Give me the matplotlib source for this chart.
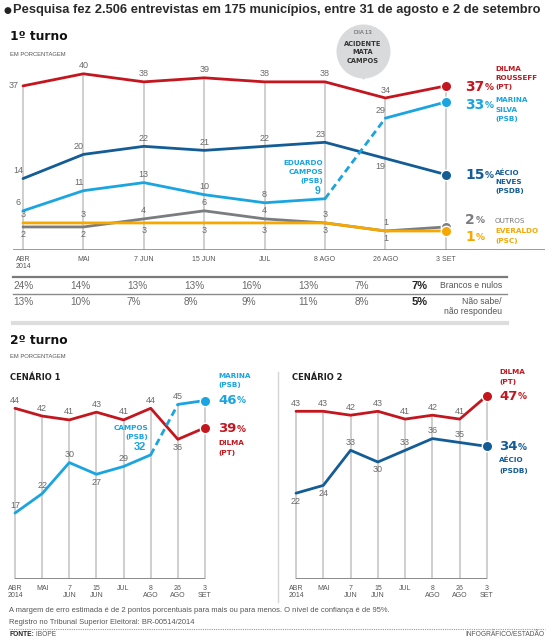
import numpy as np
import matplotlib.pyplot as plt
from matplotlib.patches import Circle, Polygon
from matplotlib.lines import Line2D

plt.rcParams['font.family'] = ['Liberation Sans Narrow', 'Liberation Sans', 'DejaVu Sans']

W, H = 560, 643

# 1o turno
datas_1t = ["ABR\n2014", "MAI", "7 JUN", "15 JUN", "JUL", "8 AGO", "26 AGO", "3 SET"]
dilma_1t = [37, 40, 38, 39, 38, 38, 34, 37]
aecio_1t = [14, 20, 22, 21, 22, 23, 19, 15]
marina_1t = [6, 11, 13, 10, 8, 9, 29, 33]   # ate 8 AGO = Eduardo Campos
outros_1t = [2, 2, 4, 6, 4, 3, 1, 2]
everaldo_1t = [3, 3, 3, 3, 3, 3, 1, 1]
brancos = [24, 14, 13, 13, 16, 13, 7, 7]
nao_sabe = [13, 10, 7, 8, 9, 11, 8, 5]

# 2o turno
datas_2t = ["ABR\n2014", "MAI", "7\nJUN", "15\nJUN", "JUL", "8\nAGO", "26\nAGO", "3\nSET"]
c1_dilma = [44, 42, 41, 43, 41, 44, 36, 39]
c1_marina = [17, 22, 30, 27, 29, 32, 45, 46]  # ate 8 AGO = Campos
c2_dilma = [43, 43, 42, 43, 41, 42, 41, 47]
c2_aecio = [22, 24, 33, 30, 33, 36, 35, 34]

RED = '#c3161e'
LBLUE = '#1aa4e0'
DBLUE = '#135c96'
GRAY = '#7b7c7f'
ORANGE = '#f7a800'
GRID = '#cccccc'
NUM = '#6a6a6a'

fig = plt.figure(figsize=(W / 100, H / 100), dpi=100)


def fx(px):
    return px / W


def fy(py):
    return 1 - py / H


def txt(px, py, s, **kw):
    kw.setdefault('va', 'center')
    return fig.text(fx(px), fy(py), s, **kw)


def linhas(px, py0, lst, step, **kw):
    for k, s in enumerate(lst):
        txt(px, py0 + k * step, s, **kw)


def hline(x0, x1, py, **kw):
    fig.add_artist(Line2D([fx(x0), fx(x1)], [fy(py), fy(py)], transform=fig.transFigure, **kw))


def make_ax(left, right, top, bottom, x0, dx, y0, dy):
    ax = fig.add_axes([fx(left), fy(bottom), (right - left) / W, (bottom - top) / H])
    ax.set_xlim((left - x0) / dx, (right - x0) / dx)
    ax.set_ylim((y0 - bottom) / dy, (y0 - top) / dy)
    ax.axis('off')
    return ax


OFF = {'a': ((0, 2.5), 'center', 'bottom'), 'b': ((0, -2.5), 'center', 'top'),
       'l': ((-3, 0), 'right', 'center'), 'al': ((-3.5, 2.5), 'center', 'bottom'),
       'bl': ((-4, -2.5), 'center', 'top'), 'L': ((-3, 2), 'right', 'bottom')}


def rotulos(ax, vals, pos, **kw):
    kw.setdefault('color', NUM)
    kw.setdefault('fontsize', 6.5)
    for i, (v, p) in enumerate(zip(vals, pos)):
        if p is None:
            continue
        (ox, oy), ha, va = OFF[p]
        ax.annotate(str(v), (i, v), xytext=(ox, oy), textcoords='offset points',
                    ha=ha, va=va, annotation_clip=False, **kw)


def grade(ax, series, base):
    topo = np.max(np.array(series), axis=0)
    ax.vlines(np.arange(len(topo)), base, topo, color=GRID, lw=1.3, zorder=1, clip_on=False)


def serie(ax, vals, color, tracejado=False):
    x = np.arange(len(vals))
    kw = dict(color=color, lw=2, zorder=3, clip_on=False, solid_capstyle='round')
    if tracejado:
        ax.plot(x[:6], vals[:6], **kw)
        ax.plot(x[5:7], vals[5:7], color=color, lw=2, ls=(0, (2.5, 1.5)), zorder=3, clip_on=False)
        ax.plot(x[6:], vals[6:], **kw)
    else:
        ax.plot(x, vals, **kw)
    ax.plot(x[-1], vals[-1], 'o', ms=7.5, color=color, mec='white', mew=1, zorder=4,
            clip_on=False)


def pct(ax, px, py, n, color, big=10, small=6.5):
    t = txt(px, py, str(n), ha='left', fontsize=big, weight='bold', color=color,
            family='DejaVu Sans')
    ax.annotate('%', xy=(1, 0.12), xycoords=t, xytext=(0.5, 0), textcoords='offset points',
                ha='left', va='bottom', fontsize=small, weight='bold', color=color,
                family='DejaVu Sans', annotation_clip=False)


def eixo_x(ax, labels, base, fs=5):
    for i, s in enumerate(labels):
        ax.annotate(s, (i, base), xytext=(0, -4), textcoords='offset points', ha='center',
                    va='top', fontsize=fs, color='#555555', linespacing=1.15,
                    annotation_clip=False)


NAME = dict(fontsize=5.2, weight='bold', family='DejaVu Sans', ha='left')
so_campos = [None] * 5 + ['L', None, None]

# ---------------- cabecalho
txt(3, 10, '●', fontsize=6.5, color='#222222', family='DejaVu Sans')
txt(13, 10, 'Pesquisa fez 2.506 entrevistas em 175 municípios, entre 31 de agosto e 2 de setembro',
    fontsize=9.3, weight='bold', color='#2a2a2a', family='Liberation Sans')
txt(10, 37, '1º turno', fontsize=8.8, weight='bold', color='#111111', family='DejaVu Sans')
txt(10, 55, 'EM PORCENTAGEM', fontsize=4.2, color='#555555')

# ---------------- 1o turno
ax1 = make_ax(13, 545, 62, 250, 23, 60.4, 235, 4.03)
base1 = ax1.get_ylim()[0]
grade(ax1, [dilma_1t, aecio_1t, marina_1t, outros_1t, everaldo_1t], base1)
ax1.axhline(base1, color='#8a8a8a', lw=1.2, zorder=2)
serie(ax1, outros_1t, GRAY)
serie(ax1, everaldo_1t, ORANGE)
serie(ax1, aecio_1t, DBLUE)
serie(ax1, marina_1t, LBLUE, tracejado=True)
serie(ax1, dilma_1t, RED)
eixo_x(ax1, datas_1t, base1)

rotulos(ax1, dilma_1t, ['l', 'a', 'a', 'a', 'a', 'a', 'a', None])
rotulos(ax1, aecio_1t, ['al', 'al', 'a', 'a', 'a', 'al', 'bl', None])
rotulos(ax1, marina_1t, ['al', 'al', 'a', 'a', 'a', None, 'al', None])
rotulos(ax1, marina_1t, so_campos, color=LBLUE, weight='bold', fontsize=7.5)
rotulos(ax1, outros_1t, ['b', 'b', 'a', 'a', 'a', 'a', 'a', None])
rotulos(ax1, everaldo_1t, ['a', 'a', 'b', 'b', 'b', 'b', 'b', None])

linhas(323, 163, ['EDUARDO', 'CAMPOS', '(PSB)'], 9, color=LBLUE, **{**NAME, 'ha': 'right'})

# balao
fig.add_artist(Polygon([(3.555, 6.43 - 0.70), (3.715, 6.43 - 0.70), (3.635, 6.43 - 0.80)],
                       closed=True, transform=fig.dpi_scale_trans, color='#d9dadc', lw=0))
fig.add_artist(Circle((3.635, 6.43 - 0.515), 0.27, transform=fig.dpi_scale_trans,
                      color='#d9dadc', lw=0))
txt(363, 33, 'DIA 13', fontsize=4.2, color='#555555', ha='center')
linhas(363, 44, ['ACIDENTE', 'MATA', 'CAMPOS'], 8.5, fontsize=4.8, weight='bold',
       color='#333333', ha='center', family='DejaVu Sans')

# rotulos finais 1o turno
pct(ax1, 465, 87, 37, RED)
linhas(495, 69, ['DILMA', 'ROUSSEFF', '(PT)'], 9, color=RED, **NAME)
pct(ax1, 465, 105, 33, LBLUE)
linhas(495, 100, ['MARINA', 'SILVA', '(PSB)'], 9.5, color=LBLUE, **NAME)
pct(ax1, 465, 175, 15, DBLUE)
linhas(495, 173, ['AÉCIO', 'NEVES', '(PSDB)'], 9, color=DBLUE, **NAME)
pct(ax1, 465, 220, 2, GRAY)
txt(495, 221, 'OUTROS', fontsize=5.2, color='#777777', family='DejaVu Sans')
pct(ax1, 465, 237, 1, ORANGE)
linhas(495, 231, ['EVERALDO', '(PSC)'], 10, color=ORANGE, **NAME)

# ---------------- tabela
hline(13, 507, 277, color='#7a7a7a', lw=1.6)
hline(13, 507, 294, color='#8a8a8a', lw=1.0)
hline(13, 507, 323, color='#dddddd', lw=3)
for i, (b, n) in enumerate(zip(brancos, nao_sabe)):
    ultimo = i == len(brancos) - 1
    kw = dict(fontsize=8 if ultimo else 7.2, weight='bold' if ultimo else 'normal',
              color='#222222' if ultimo else '#6a6a6a', ha='left')
    px = 13 + 57 * i
    txt(px, 286, f'{b}%', **kw)
    txt(px, 302, f'{n}%', **kw)
txt(502, 286, 'Brancos e nulos', fontsize=6.2, color='#555555', ha='right')
txt(502, 302, 'Não sabe/', fontsize=6.2, color='#555555', ha='right')
txt(502, 312, 'não respondeu', fontsize=6.2, color='#555555', ha='right')

# ---------------- 2o turno
txt(10, 341, '2º turno', fontsize=8.8, weight='bold', color='#111111', family='DejaVu Sans')
txt(10, 357, 'EM PORCENTAGEM', fontsize=4.2, color='#555555')
txt(10, 377, 'CENÁRIO 1', fontsize=6, weight='bold', color='#222222', family='DejaVu Sans')
txt(292, 377, 'CENÁRIO 2', fontsize=6, weight='bold', color='#222222', family='DejaVu Sans')
fig.add_artist(Line2D([fx(278), fx(278)], [fy(372), fy(602)], transform=fig.transFigure,
                      color='#d5d5d5', lw=1))

# cenario 1
ax2 = make_ax(15, 205, 395, 579, 15, 190 / 7, 579, 3.88)
grade(ax2, [c1_dilma, c1_marina], 0)
ax2.axhline(0, color='#8a8a8a', lw=1.4, zorder=2)
serie(ax2, c1_dilma, RED)
serie(ax2, c1_marina, LBLUE, tracejado=True)
eixo_x(ax2, datas_2t, 0)
rotulos(ax2, c1_dilma, ['a', 'a', 'a', 'a', 'a', 'a', 'b', None])
rotulos(ax2, c1_marina, ['a', 'a', 'a', 'b', 'a', None, 'a', None])
rotulos(ax2, c1_marina, so_campos, color=LBLUE, weight='bold', fontsize=8)
linhas(148, 428, ['CAMPOS', '(PSB)'], 9, color=LBLUE, **{**NAME, 'ha': 'right'})
linhas(218, 376, ['MARINA', '(PSB)'], 8.5, color=LBLUE, **NAME)
pct(ax2, 218, 400, 46, LBLUE, big=9.5, small=6.5)
pct(ax2, 218, 429, 39, RED, big=9.5, small=6.5)
linhas(218, 443, ['DILMA', '(PT)'], 10.5, color=RED, **NAME)

# cenario 2
ax3 = make_ax(296, 487, 395, 579, 296, 191 / 7, 579, 3.9)
grade(ax3, [c2_dilma, c2_aecio], 0)
ax3.axhline(0, color='#8a8a8a', lw=1.4, zorder=2)
serie(ax3, c2_dilma, RED)
serie(ax3, c2_aecio, DBLUE)
eixo_x(ax3, datas_2t, 0)
rotulos(ax3, c2_dilma, ['a', 'a', 'a', 'a', 'a', 'a', 'a', None])
rotulos(ax3, c2_aecio, ['b', 'b', 'a', 'b', 'a', 'a', 'a', None])
linhas(499, 372, ['DILMA', '(PT)'], 10, color=RED, **NAME)
pct(ax3, 499, 396, 47, RED, big=9.5, small=6.5)
pct(ax3, 499, 447, 34, DBLUE, big=9.5, small=6.5)
linhas(499, 460, ['AÉCIO', '(PSDB)'], 11, color=DBLUE, **NAME)

# ---------------- rodape
txt(9, 610, 'A margem de erro estimada é de 2 pontos porcentuais para mais ou para menos. '
    'O nível de confiança é de 95%.', fontsize=5.4, color='#555555')
txt(9, 622, 'Registro no Tribunal Superior Eleitoral: BR-00514/2014', fontsize=5.4, color='#555555')
fig.add_artist(Line2D([fx(9), fx(545)], [fy(629), fy(629)], transform=fig.transFigure,
                      color='#999999', lw=0.8, ls=(0, (1, 1))))
t = txt(9, 635, 'FONTE:', fontsize=4.8, weight='bold', color='#222222')
ax3.annotate(' IBOPE', xy=(1, 0), xycoords=t, va='bottom', ha='left', fontsize=4.8,
             color='#555555', annotation_clip=False)
txt(545, 635, 'INFOGRÁFICO/ESTADÃO', fontsize=4.8, color='#555555', ha='right')

fig.savefig('out.png', dpi=100)
